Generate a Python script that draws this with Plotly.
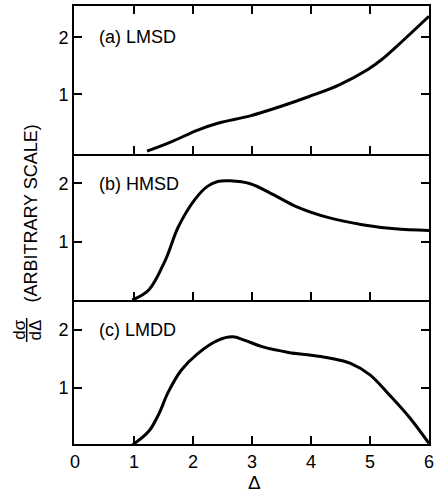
import plotly.graph_objects as go
from plotly.subplots import make_subplots

# ---- data ----
delta_a = [1.22, 1.6, 2.08, 2.42, 2.97, 3.47, 3.97, 4.47, 4.97, 5.2, 5.42, 6.0]
sigma_a = [0.0, 0.15, 0.37, 0.49, 0.62, 0.78, 0.96, 1.16, 1.44, 1.61, 1.81, 2.37]

delta_b = [0.97, 1.25, 1.53, 1.75, 2.03, 2.25, 2.42, 2.63, 2.97, 3.37, 3.75, 4.30, 4.87, 5.42, 6.0]
sigma_b = [0.0, 0.17, 0.68, 1.25, 1.72, 1.95, 2.03, 2.04, 1.99, 1.80, 1.60, 1.41, 1.29, 1.22, 1.19]

delta_c = [0.97, 1.25, 1.42, 1.58, 1.80, 2.08, 2.42, 2.67, 2.88, 3.17, 3.62, 4.00, 4.33, 4.67, 5.00, 5.33, 5.67, 6.0]
sigma_c = [0.0, 0.24, 0.54, 0.92, 1.30, 1.59, 1.82, 1.88, 1.82, 1.71, 1.61, 1.56, 1.51, 1.42, 1.22, 0.87, 0.48, 0.03]

panel_labels = ["(a) LMSD", "(b) HMSD", "(c) LMDD"]
x_ticks = [0, 1, 2, 3, 4, 5, 6]
y_ticks = [1, 2]

FONT = "Liberation Sans"
W, H = 435, 492
ML, MR, MT, MB = 74, 1, 6, 48
PH = H - MT - MB  # 438

fig = make_subplots(rows=3, cols=1, shared_xaxes=True, vertical_spacing=0)

series = [(delta_a, sigma_a), (delta_b, sigma_b), (delta_c, sigma_c)]
for i, (xs, ys) in enumerate(series):
    fig.add_trace(go.Scatter(x=xs, y=ys, mode="lines",
                             line=dict(color="black", width=3, shape="spline", smoothing=1.0),
                             showlegend=False, hoverinfo="skip"), row=i + 1, col=1)

# domains in pixel rows: a 6-154, b 154-300, c 300-444
def dom(top, bot):
    return [(MT + PH - bot) / PH, (MT + PH - top) / PH]

domains = [dom(6, 154), dom(154, 300), dom(300, 444)]
yranges = [[-0.05, 2.55], [0, 2.5], [0.02, 2.52]]

axis_common = dict(showline=True, linecolor="black", linewidth=2,
                   ticks="inside", ticklen=8, tickwidth=2, tickcolor="black",
                   showgrid=False, zeroline=False)

for i in range(3):
    yname = "yaxis" if i == 0 else f"yaxis{i+1}"
    xname = "xaxis" if i == 0 else f"xaxis{i+1}"
    fig.layout[yname].update(domain=domains[i], range=yranges[i], tickvals=y_ticks,
                             ticktext=[str(v) for v in y_ticks], mirror="ticks",
                             tickfont=dict(family=FONT, size=18, color="black"), **axis_common)
    fig.layout[xname].update(range=[-0.017, 6.0], tickvals=x_ticks,
                             ticktext=[str(v) for v in x_ticks],
                             mirror=("ticks" if i == 0 else False),
                             showticklabels=(i == 2), ticklabeloverflow="allow",
                             tickfont=dict(family=FONT, size=18, color="black"), **axis_common)
    xref = "x domain" if i == 0 else f"x{i+1} domain"
    yref = "y domain" if i == 0 else f"y{i+1} domain"
    fig.add_annotation(text=panel_labels[i], xref=xref, yref=yref, x=0.064, y=0.793,
                       xanchor="left", yanchor="middle", showarrow=False,
                       font=dict(family=FONT, size=18, color="black"))

def px_x(px):
    return (px - ML) / (W - ML - MR)

def px_y(py):
    return (MT + PH - py) / PH

# x-axis title
fig.add_annotation(text="Δ", xref="paper", yref="paper", x=px_x(257), y=px_y(482),
                   xanchor="center", yanchor="middle", showarrow=False,
                   font=dict(family=FONT, size=19, color="black"))

# y-axis title: dσ/dΔ (ARBITRARY SCALE)
fig.add_annotation(text="(ARBITRARY SCALE)", xref="paper", yref="paper",
                   x=px_x(30), y=px_y(214), xanchor="center", yanchor="middle",
                   textangle=-90, showarrow=False,
                   font=dict(family=FONT, size=18, color="black"))
fig.add_annotation(text="dσ", xref="paper", yref="paper",
                   x=px_x(18), y=px_y(330), xanchor="center", yanchor="middle",
                   textangle=-90, showarrow=False,
                   font=dict(family=FONT, size=17, color="black"))
fig.add_annotation(text="dΔ", xref="paper", yref="paper",
                   x=px_x(34), y=px_y(330), xanchor="center", yanchor="middle",
                   textangle=-90, showarrow=False,
                   font=dict(family=FONT, size=17, color="black"))
fig.add_shape(type="line", xref="paper", yref="paper",
              x0=px_x(26), x1=px_x(26), y0=px_y(318), y1=px_y(342),
              line=dict(color="black", width=1.5))

fig.update_layout(width=W, height=H, margin=dict(l=ML, r=MR, t=MT, b=MB),
                  paper_bgcolor="white", plot_bgcolor="white",
                  font=dict(family=FONT, color="black"))

fig.write_html("out.html")
